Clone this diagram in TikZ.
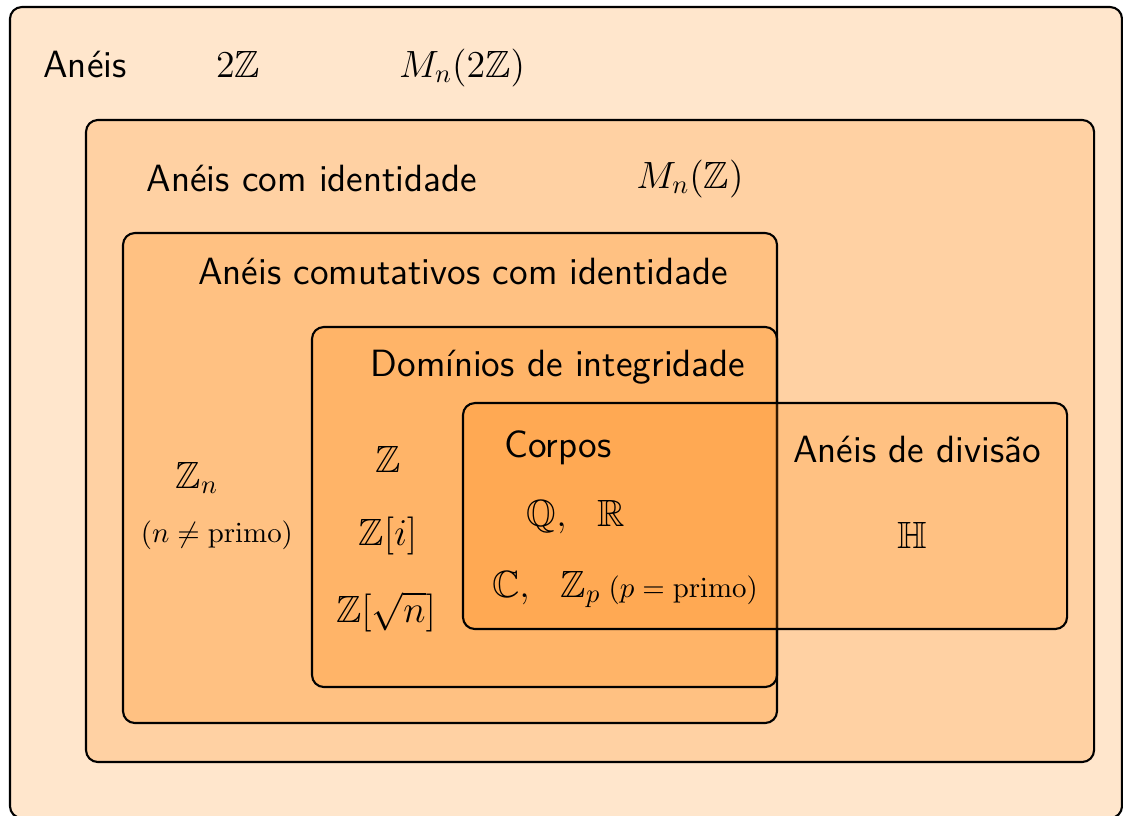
\documentclass[tikz,border=0pt]{standalone}
\usepackage{amssymb}

\begin{document}
\begin{tikzpicture}[conjunto/.style={draw=black,thick,rounded corners=4.5pt,fill=orange,fill opacity=0.2},
        rotulo/.style={anchor=base,font=\Large\sffamily},
        elem/.style={anchor=base,font=\Large},
        obs/.style={anchor=base,font=\fontsize{11}{13}\selectfont}]
        \clip (0,0) rectangle (14.973,10.867);

        % conjuntos
        \draw[conjunto] (0.133,-0.04) rectangle (14.96,10.773);
        \draw[conjunto] (1.147,0.707) rectangle (14.587,9.267);
        \draw[conjunto] (1.64,1.227) rectangle (10.36,7.76);
        \draw[conjunto] (4.16,1.707) rectangle (10.36,6.507);
        \draw[conjunto] (6.173,2.48) rectangle (14.227,5.493);

        \node[rotulo] (An) at (1.133,9.84) {Anéis};
        \node[rotulo] (AnId) at (4.16,8.32) {Anéis com identidade};
        \node[rotulo] (AnCom) at (6.173,7.08) {Anéis comutativos com identidade};
        \node[rotulo] (Dom) at (7.44,5.853) {Domínios de integridade};
        \node[rotulo] (Corp) at (7.44,4.773) {Corpos};
        \node[rotulo] (Div) at (12.227,4.707) {Anéis de divisão};

        % exemplos
        \node[elem] (DoisZ) at (3.173,9.84) {$2\mathbb{Z}$};
        \node[elem] (MnDoisZ) at (6.16,9.84) {$M_n(2\mathbb{Z})$};
        \node[elem] (MnZ) at (9.2,8.36) {$M_n(\mathbb{Z})$};
        \node[elem] (Zn) at (2.627,4.36) {$\mathbb{Z}_n$};
        \node[obs] (Zncond) at (2.893,3.64) {$(n\neq\mathrm{primo})$};
        \node[elem] (Z) at (5.173,4.573) {$\mathbb{Z}$};
        \node[elem] (Zi) at (5.173,3.6) {$\mathbb{Z}[i]$};
        \node[elem] (Zrn) at (5.147,2.573) {$\mathbb{Z}[\sqrt{n}]$};
        \node[elem] (QR) at (7.68,3.853) {$\mathbb{Q},\ \ \mathbb{R}$};
        \node[elem] (CZp) at (8.333,2.907) {$\mathbb{C},\ \ \mathbb{Z}_p$\hspace{3pt}{\fontsize{11}{13}\selectfont$(p=\mathrm{primo})$}};
        \node[elem] (H) at (12.16,3.56) {$\mathbb{H}$};
\end{tikzpicture}
\end{document}
